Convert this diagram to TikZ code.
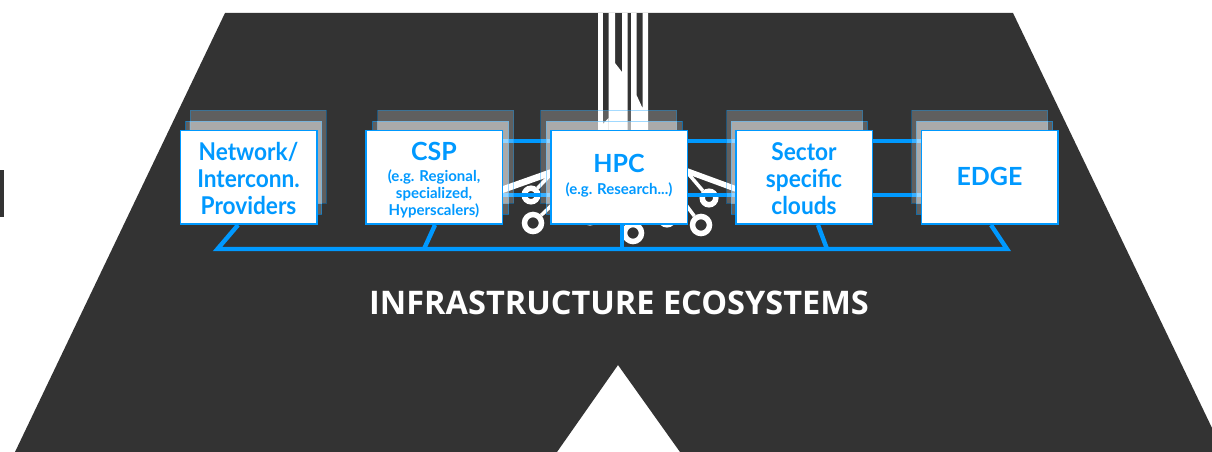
\documentclass[tikz,border=0pt]{standalone}
\usepackage{fontspec}
\setmainfont{Lato}[BoldFont={Lato Bold}]
\newfontfamily\narrowfont{Lato}[BoldFont={Lato Bold},FakeStretch=0.925]
\newfontfamily\titlefont{Open Sans}
\definecolor{darkbg}{HTML}{333333}
\definecolor{bluea}{HTML}{0099FF}
\newcommand{\subtextfont}{\fontsize{15}{16.5}\selectfont}
\newcommand{\lowfont}{\narrowfont\fontsize{24.5}{27}\selectfont}
\newcommand{\firststrut}{\rule{0pt}{22pt}}
\tikzset{
  backbox/.style={draw=bluea,draw opacity=.35,line width=.8pt,fill=white,fill opacity=.22,minimum width=136pt,minimum height=93pt,inner sep=0pt},
  midbox/.style={draw=bluea,draw opacity=.55,line width=.8pt,fill=white,fill opacity=.22,minimum width=136pt,minimum height=93pt,inner sep=0pt},
  frontbox/.style={draw=bluea,line width=1.5pt,fill=white,text=bluea,align=center,minimum width=136.5pt,minimum height=93.5pt,inner sep=0pt,font=\fontsize{25}{27}\selectfont\bfseries},
  bluelink/.style={draw=bluea,line width=4.4pt,line join=miter},
  whiteline/.style={draw=white,line width=3.5pt},
  bigring/.style={circle,draw=white,line width=5.5pt,minimum size=17pt,inner sep=0pt},
  smallring/.style={circle,draw=white,line width=5.5pt,minimum size=13.5pt,inner sep=0pt}
}
\begin{document}
\begin{tikzpicture}[x=1pt,y=-1pt]
\useasboundingbox (0,0) rectangle (1212,452);
\fill[white] (0,0) rectangle (1212,452);
% ground
\fill[darkbg] (225,13) -- (1013,13) -- (1212,428) -- (1212,452) -- (680,452) -- (618,365) -- (557,452) -- (15,452) -- cycle;
\fill[darkbg] (0,170) rectangle (3.5,217);
% blue links between the clouds
\coordinate (upL) at (503,141); \coordinate (upR) at (921,141);
\coordinate (loL) at (503,195); \coordinate (loR) at (921,195);
\draw[bluelink] (upL) -- (upR);
% white traces from the top
\fill[white] (597.5,13) rectangle (603,130);
\fill[white] (608.5,13) -- (615,13) -- (615,63) -- (622,72) -- (622,13) -- (627.5,13) -- (627.5,130) -- (608.5,130) -- cycle;
\fill[white] (631,13) -- (636.5,13) -- (636.5,95) -- (642.5,108) -- (642.5,13) -- (648,13) -- (648,130) -- (631,130) -- cycle;
\fill[white] (603,124) -- (608.5,118) -- (608.5,130) -- (603,130) -- cycle;
% rings under HPC
\node[smallring] (r1) at (531,195) {};
\node[bigring] (r2) at (533,223) {};
\node[smallring] (r3) at (709,198) {};
\node[bigring] (r4) at (701,225) {};
\node[smallring] (r5) at (667,218) {};
\node[bigring] (r6) at (633,233) {};
\node[smallring] (r7) at (590,216) {};
\coordinate (tl1) at (552,173); \coordinate (tl2) at (552,205);
\coordinate (tr1) at (686,171); \coordinate (tr2) at (686,205);
\draw[whiteline] (r1) -- (tl1);
\draw[whiteline] (r2) -- (tl2);
\draw[whiteline] (r3) -- (tr1);
\draw[whiteline] (r4) -- (tr2);
\fill[white] (551,169) -- (503,186) -- (503,193) -- (551,176) -- cycle;
\fill[white] (687,168) -- (736,186) -- (736,192) -- (687,174) -- cycle;
\draw[bluelink] (loL) -- (loR);
% stacks
\node[backbox] (s1) at (258,156.5) {}; \node[midbox] (m1) at (253.5,167.5) {};
\node[backbox] (s2) at (445.5,156.5) {}; \node[midbox] (m2) at (440.5,167.5) {};
\node[backbox] (s3) at (608.5,156.5) {}; \node[midbox] (m3) at (614,167.5) {};
\node[backbox] (s4) at (794.5,156.5) {}; \node[midbox] (m4) at (799,167.5) {};
\node[backbox] (s5) at (979.5,156.5) {}; \node[midbox] (m5) at (984.5,167.5) {};
\foreach \i in {1,...,5}{
  \begin{scope}
    \clip (s\i.north west) rectangle (s\i.south east);
    \fill[white,opacity=.32] (m\i.north west) rectangle (m\i.south east);
  \end{scope}
}
% front boxes
\node[frontbox] (net) at (248.5,177) {\lowfont\firststrut Network/\\\lowfont Interconn.\\\lowfont Providers};
\node[frontbox] (csp) at (434,177) {\rule{0pt}{24pt}CSP\\[-6pt]\subtextfont (e.g. Regional,\\[-10pt]\subtextfont specialized,\\[-10pt]\subtextfont Hyperscalers)};
\node[frontbox] (hpc) at (619,177) {HPC\\[-5.5pt]\subtextfont (e.g. Research...)\rule[-5pt]{0pt}{5pt}};
\node[frontbox] (sec) at (804,177) {\lowfont\firststrut Sector\\\lowfont specific\\\lowfont clouds};
\node[frontbox] (edge) at (989.5,177) {EDGE\rule[-2pt]{0pt}{2pt}};
% bus
\coordinate (a) at (217.5,249); \coordinate (b) at (424,249); \coordinate (c) at (622,249); \coordinate (d) at (827,249); \coordinate (e) at (1007,249);
\coordinate (na) at (238,225); \coordinate (nb) at (435,225); \coordinate (nc) at (622,225); \coordinate (nd) at (818,225); \coordinate (ne) at (991,225);
\draw[bluelink] (na) -- (a) -- (e) -- (ne);
\draw[bluelink] (nb) -- (b);
\draw[bluelink] (nc) -- (c);
\draw[bluelink] (nd) -- (d);
% title
\node[text=white,font=\titlefont\fontsize{32.5}{36}\selectfont\bfseries,inner sep=0pt] (title) at (619,303) {INFRASTRUCTURE ECOSYSTEMS};
\end{tikzpicture}
\end{document}
